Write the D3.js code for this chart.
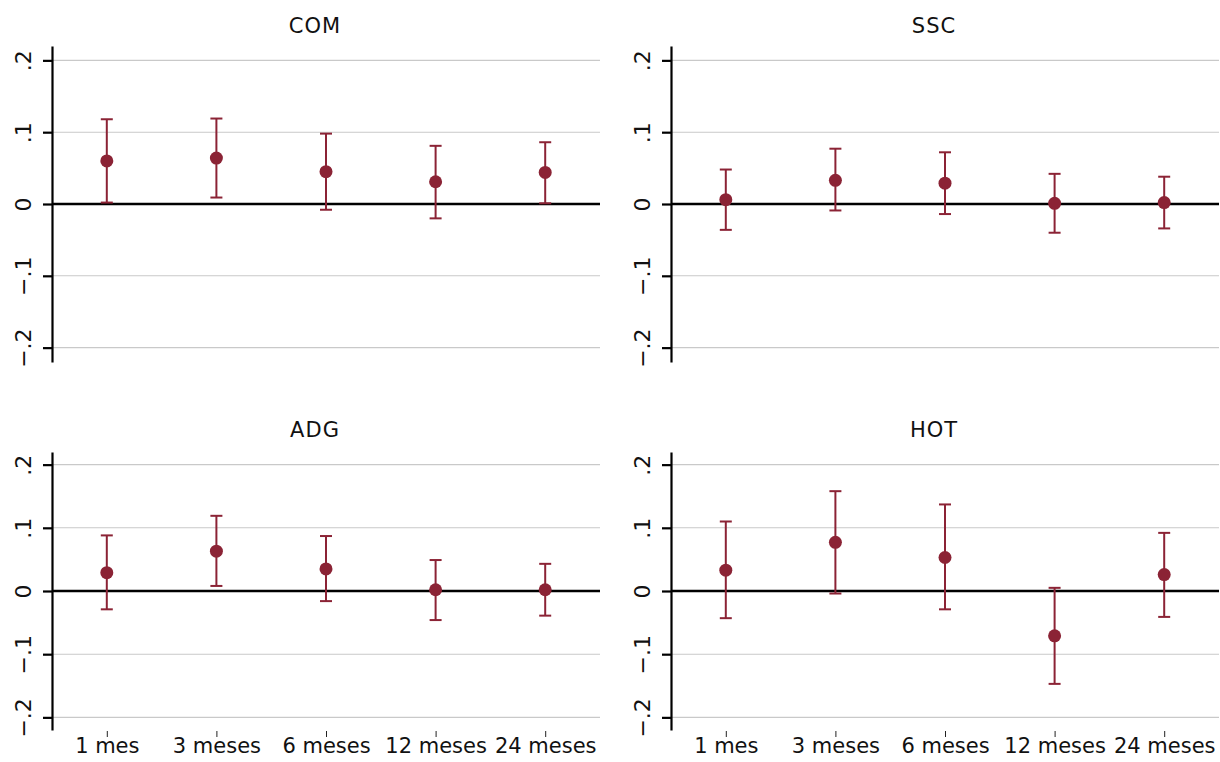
<!DOCTYPE html>
<html>
<head>
<meta charset="utf-8">
<script src="https://cdn.jsdelivr.net/npm/d3@7"></script>
<style>
  html, body { margin: 0; padding: 0; background: #fff; }
  svg { display: block; }
  text { font-family: "DejaVu Sans", sans-serif; fill: #111; }
</style>
</head>
<body>
<svg id="chart" width="1220" height="762"></svg>
<script>
// ---- Data ----
const categories = ["1 mes", "3 meses", "6 meses", "12 meses", "24 meses"];
const panelNames = ["COM", "SSC", "ADG", "HOT"];

const comEst = [0.060, 0.064, 0.045, 0.031, 0.044];
const comLo  = [0.002, 0.009, -0.008, -0.020, 0.001];
const comHi  = [0.118, 0.119, 0.098, 0.081, 0.086];

const sscEst = [0.006, 0.033, 0.029, 0.001, 0.002];
const sscLo  = [-0.036, -0.009, -0.014, -0.040, -0.034];
const sscHi  = [0.048, 0.077, 0.072, 0.042, 0.038];

const adgEst = [0.029, 0.063, 0.035, 0.002, 0.002];
const adgLo  = [-0.029, 0.008, -0.016, -0.046, -0.039];
const adgHi  = [0.088, 0.119, 0.087, 0.049, 0.043];

const hotEst = [0.033, 0.077, 0.053, -0.071, 0.026];
const hotLo  = [-0.043, -0.004, -0.029, -0.147, -0.041];
const hotHi  = [0.110, 0.158, 0.137, 0.005, 0.092];

const yTicks = [-0.2, -0.1, 0, 0.1, 0.2];
const yTickLabels = ["\u2212.2", "\u2212.1", "0", ".1", ".2"];
const yDomain = [-0.22, 0.22];

// ---- Layout ----
const panels = [
  { name: panelNames[0], est: comEst, lo: comLo, hi: comHi, left: 52, right: 600, top: 46, bottom: 362, xlabels: false, titleY: 33 },
  { name: panelNames[1], est: sscEst, lo: sscLo, hi: sscHi, left: 671, right: 1219, top: 46, bottom: 362, xlabels: false, titleY: 33 },
  { name: panelNames[2], est: adgEst, lo: adgLo, hi: adgHi, left: 52, right: 600, top: 452, bottom: 730, xlabels: true, titleY: 437 },
  { name: panelNames[3], est: hotEst, lo: hotLo, hi: hotHi, left: 671, right: 1219, top: 452, bottom: 730, xlabels: true, titleY: 437 }
];

const color = "#8b2335";
const svg = d3.select("#chart");

panels.forEach(p => {
  const g = svg.append("g");
  const x = d3.scalePoint().domain(categories).range([p.left, p.right]).padding(0.5);
  const y = d3.scaleLinear().domain(yDomain).range([p.bottom, p.top]);

  // gridlines
  g.append("g")
    .selectAll("line.grid")
    .data(yTicks.filter(d => d !== 0))
    .join("line")
    .attr("x1", p.left).attr("x2", p.right)
    .attr("y1", d => y(d)).attr("y2", d => y(d))
    .attr("stroke", "#c9c9c9").attr("stroke-width", 1.1);

  // zero line
  g.append("line")
    .attr("x1", p.left).attr("x2", p.right)
    .attr("y1", y(0)).attr("y2", y(0))
    .attr("stroke", "#000").attr("stroke-width", 2.4);

  // y axis
  const yAxis = d3.axisLeft(y)
    .tickValues(yTicks)
    .tickFormat((d, i) => yTickLabels[i])
    .tickSize(9)
    .tickSizeOuter(0)
    .tickPadding(0);
  const ya = g.append("g").attr("transform", `translate(${p.left},0)`).call(yAxis);
  ya.select(".domain").attr("stroke", "#000").attr("stroke-width", 2.2);
  ya.selectAll(".tick line").attr("stroke", "#000").attr("stroke-width", 2.2);
  ya.selectAll(".tick text")
    .attr("x", null).attr("dy", null)
    .attr("text-anchor", "middle")
    .attr("transform", "translate(-21,0) rotate(-90)")
    .style("font-family", "DejaVu Sans, sans-serif")
    .style("font-size", "22px")
    .attr("fill", "#111");

  // x axis (bottom panels only)
  if (p.xlabels) {
    const xAxis = d3.axisBottom(x).tickSize(6).tickSizeOuter(0).tickPadding(1);
    const xa = g.append("g").attr("transform", `translate(0,${p.bottom + 1})`).call(xAxis);
    xa.select(".domain").remove();
    xa.selectAll(".tick line").attr("stroke", "#222").attr("stroke-width", 1);
    xa.selectAll(".tick text")
      .style("font-family", "DejaVu Sans, sans-serif")
      .style("font-size", "21px")
      .attr("fill", "#111");
  }

  // error bars
  const capW = 6;
  const data = categories.map((c, i) => ({ c, est: p.est[i], lo: p.lo[i], hi: p.hi[i] }));
  const eb = g.append("g").attr("stroke", color).attr("stroke-width", 2);
  eb.selectAll("line.v").data(data).join("line")
    .attr("x1", d => x(d.c)).attr("x2", d => x(d.c))
    .attr("y1", d => y(d.lo)).attr("y2", d => y(d.hi));
  eb.selectAll("line.top").data(data).join("line")
    .attr("x1", d => x(d.c) - capW).attr("x2", d => x(d.c) + capW)
    .attr("y1", d => y(d.hi)).attr("y2", d => y(d.hi));
  eb.selectAll("line.bot").data(data).join("line")
    .attr("x1", d => x(d.c) - capW).attr("x2", d => x(d.c) + capW)
    .attr("y1", d => y(d.lo)).attr("y2", d => y(d.lo));

  // points
  g.selectAll("circle").data(data).join("circle")
    .attr("cx", d => x(d.c)).attr("cy", d => y(d.est))
    .attr("r", 6.5).attr("fill", color);

  // title
  g.append("text")
    .attr("x", (p.left + p.right) / 2 - 11)
    .attr("y", p.titleY)
    .attr("text-anchor", "middle")
    .style("font-size", "21px")
    .style("letter-spacing", "1px")
    .text(p.name);
});
</script>
</body>
</html>
